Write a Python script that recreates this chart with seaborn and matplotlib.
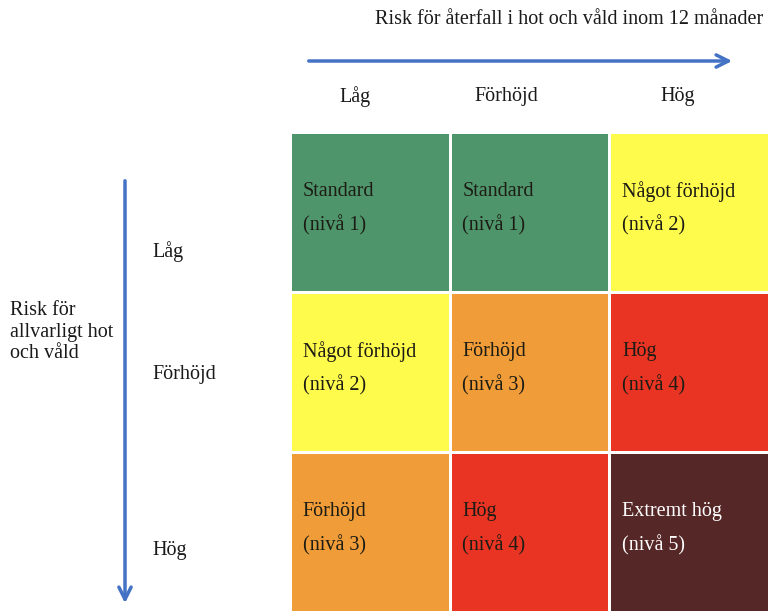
import numpy as np
import pandas as pd
import matplotlib
matplotlib.use("Agg")
import matplotlib.pyplot as plt
from matplotlib.colors import ListedColormap
import seaborn as sns

# Data
col_labels = ["Låg", "Förhöjd", "Hög"]
row_labels = ["Låg", "Förhöjd", "Hög"]
levels = [[1, 1, 2],
          [2, 3, 4],
          [3, 4, 5]]
level_names = {1: "Standard", 2: "Något förhöjd", 3: "Förhöjd", 4: "Hög", 5: "Extremt hög"}
level_colors = ["#4f956b", "#fffb4c", "#f09c38", "#e93323", "#552726"]
x_title = "Risk för återfall i hot och våld inom 12 månader"
y_title = "Risk för\nallvarligt hot\noch våld"

sns.set_theme(style="white")
plt.rcParams["font.family"] = ["Liberation Serif", "DejaVu Serif"]
FS = 14.5

W, H = 769, 612
fig = plt.figure(figsize=(W / 100, H / 100), dpi=100)
fig.patch.set_facecolor("white")

# overlay for arrows and outer labels, pixel coords
over = fig.add_axes([0, 0, 1, 1])
over.set_xlim(0, W)
over.set_ylim(H, 0)
over.axis("off")

# heatmap grid
left, top = 290, 132
ax = fig.add_axes([left / W, 0, (W - left) / W, (H - top) / H])
df = pd.DataFrame(levels, index=row_labels, columns=col_labels)
sns.heatmap(df, ax=ax, cmap=ListedColormap(level_colors), vmin=0.5, vmax=5.5,
            cbar=False, linewidths=1.0, linecolor="white", square=False)
ax.set_xticks([])
ax.set_yticks([])
ax.set_xlabel("")
ax.set_ylabel("")

for i, row in enumerate(levels):
    for j, lv in enumerate(row):
        c = "white" if lv == 5 else "#1c1c14"
        ax.text(j + 0.08, i + 0.37, level_names[lv], ha="left", va="center", fontsize=FS, color=c)
        ax.text(j + 0.08, i + 0.58, f"(nivå {lv})", ha="left", va="center", fontsize=FS, color=c)

blue = "#4472c4"
over.annotate("", xy=(735, 61), xytext=(306, 61),
              arrowprops=dict(arrowstyle="->", lw=2.5, color=blue, mutation_scale=22))
over.annotate("", xy=(125, 606), xytext=(125, 178),
              arrowprops=dict(arrowstyle="->", lw=2.5, color=blue, mutation_scale=22))

over.text(763, 20, x_title, ha="right", va="center", fontsize=FS, color="#1a1a1a")
for x, lab in zip([355, 506, 678], col_labels):
    over.text(x, 97, lab, ha="center", va="center", fontsize=FS, color="#1a1a1a")
for y, lab in zip([252, 375, 551], row_labels):
    over.text(152, y, lab, ha="left", va="center", fontsize=FS, color="#1a1a1a")
over.text(10, 332, y_title, ha="left", va="center", fontsize=FS, color="#1a1a1a", linespacing=1.2)

fig.savefig("out.png", dpi=100, facecolor="white")
